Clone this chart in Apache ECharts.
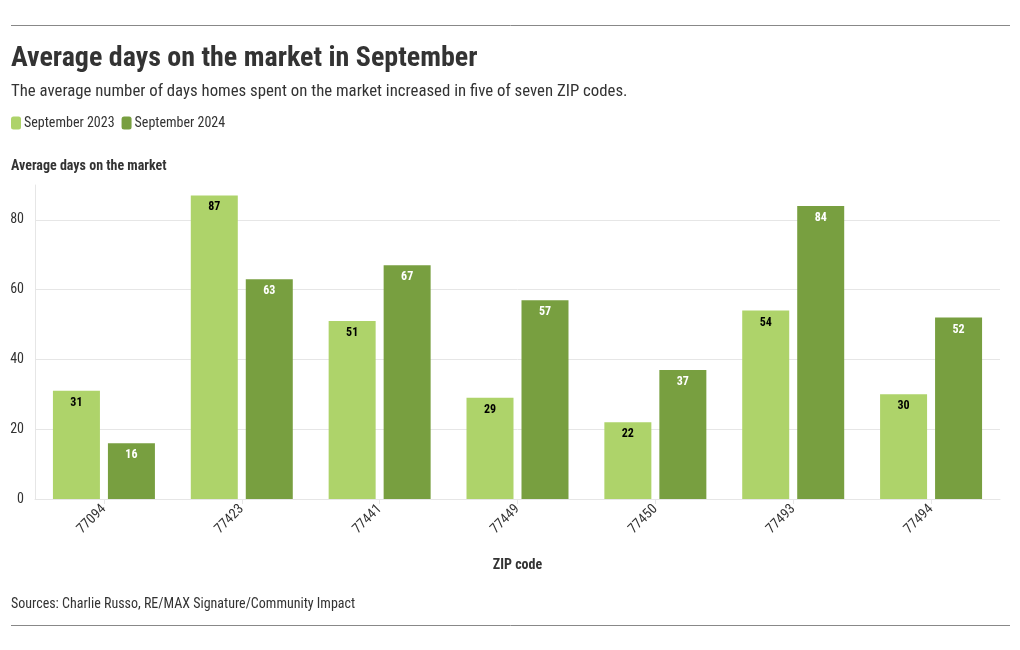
<!DOCTYPE html>
<html><head><meta charset="utf-8">
<script src="https://cdn.jsdelivr.net/npm/echarts@6/dist/echarts.min.js"></script>
<style>html,body{margin:0;padding:0;background:#fff}#c{width:1020px;height:650px}</style>
</head><body><div id="c"></div>
<script>
const categories = ['77094','77423','77441','77449','77450','77493','77494'];
const sept2023 = [31, 87, 51, 29, 22, 54, 30];
const sept2024 = [16, 63, 67, 57, 37, 84, 52];
const seriesNames = ['September 2023', 'September 2024'];
const yTicks = [0, 20, 40, 60, 80];

const FONT = "'Roboto Condensed', 'Liberation Sans Narrow', 'DejaVu Sans Condensed', Roboto, sans-serif";
const C1 = '#aed36a', C2 = '#789f40';
const chart = echarts.init(document.getElementById('c'));
chart.setOption({
  backgroundColor: '#fff',
  textStyle: { fontFamily: FONT },
  title: {
    text: 'Average days on the market in September',
    subtext: 'The average number of days homes spent on the market increased in five of seven ZIP codes.',
    left: 11, top: 45, itemGap: 10, padding: 0,
    textStyle: { fontFamily: FONT, fontSize: 28, fontWeight: 'bold', color: '#333' },
    subtextStyle: { fontFamily: FONT, fontSize: 16.8, color: '#333' }
  },
  legend: {
    left: 11, top: 116, itemWidth: 10, itemHeight: 13, itemGap: 7, padding: 0,
    icon: 'roundRect',
    textStyle: { fontFamily: FONT, fontSize: 14, color: '#333', padding: [0, 0, 0, -2] },
    data: seriesNames
  },
  grid: { left: 35, right: 20, top: 185, bottom: 151 },
  xAxis: {
    type: 'category', data: categories,
    name: 'ZIP code', nameLocation: 'middle', nameGap: 59,
    nameTextStyle: { fontFamily: FONT, fontSize: 14, fontWeight: 'bold', color: '#333' },
    axisLine: { lineStyle: { color: '#e6e6e6' } },
    axisTick: { show: true, alignWithLabel: true, length: 5, lineStyle: { color: '#e6e6e6' } },
    axisLabel: { rotate: 45, fontSize: 14, color: '#333', margin: 8, fontFamily: FONT }
  },
  yAxis: {
    type: 'value', min: 0, max: 90, interval: 20,
    axisLine: { show: true, lineStyle: { color: '#e6e6e6' } },
    axisTick: { show: false },
    axisLabel: { fontSize: 14, color: '#333', margin: 11, fontFamily: FONT,
      formatter: v => yTicks.includes(v) ? String(v) : '' },
    splitLine: { show: true, lineStyle: { color: ['#e6e6e6','#e6e6e6','#e6e6e6','#e6e6e6','#e6e6e6','rgba(0,0,0,0)'] } }
  },
  series: [
    { name: seriesNames[0], type: 'bar', data: sept2023, barWidth: 47, barGap: '17%',
      itemStyle: { color: C1 },
      label: { show: true, position: 'insideTop', distance: 6, color: '#000', fontWeight: 'bold', fontSize: 12, fontFamily: FONT } },
    { name: seriesNames[1], type: 'bar', data: sept2024, barWidth: 47,
      itemStyle: { color: C2 },
      label: { show: true, position: 'insideTop', distance: 6, color: '#fff', fontWeight: 'bold', fontSize: 12, fontFamily: FONT } }
  ],
  graphic: [
    { type: 'line', shape: { x1: 11, y1: 25.5, x2: 1010, y2: 25.5 }, style: { stroke: '#888', lineWidth: 1 } },
    { type: 'line', shape: { x1: 11, y1: 625.5, x2: 1010, y2: 625.5 }, style: { stroke: '#888', lineWidth: 1 } },
    { type: 'text', left: 11, top: 159, style: { text: 'Average days on the market', font: "bold 14px " + FONT, fill: '#333' } },
    { type: 'text', left: 11, top: 597, style: { text: 'Sources: Charlie Russo, RE/MAX Signature/Community Impact', font: "14px " + FONT, fill: '#333' } }
  ]
});
</script></body></html>
